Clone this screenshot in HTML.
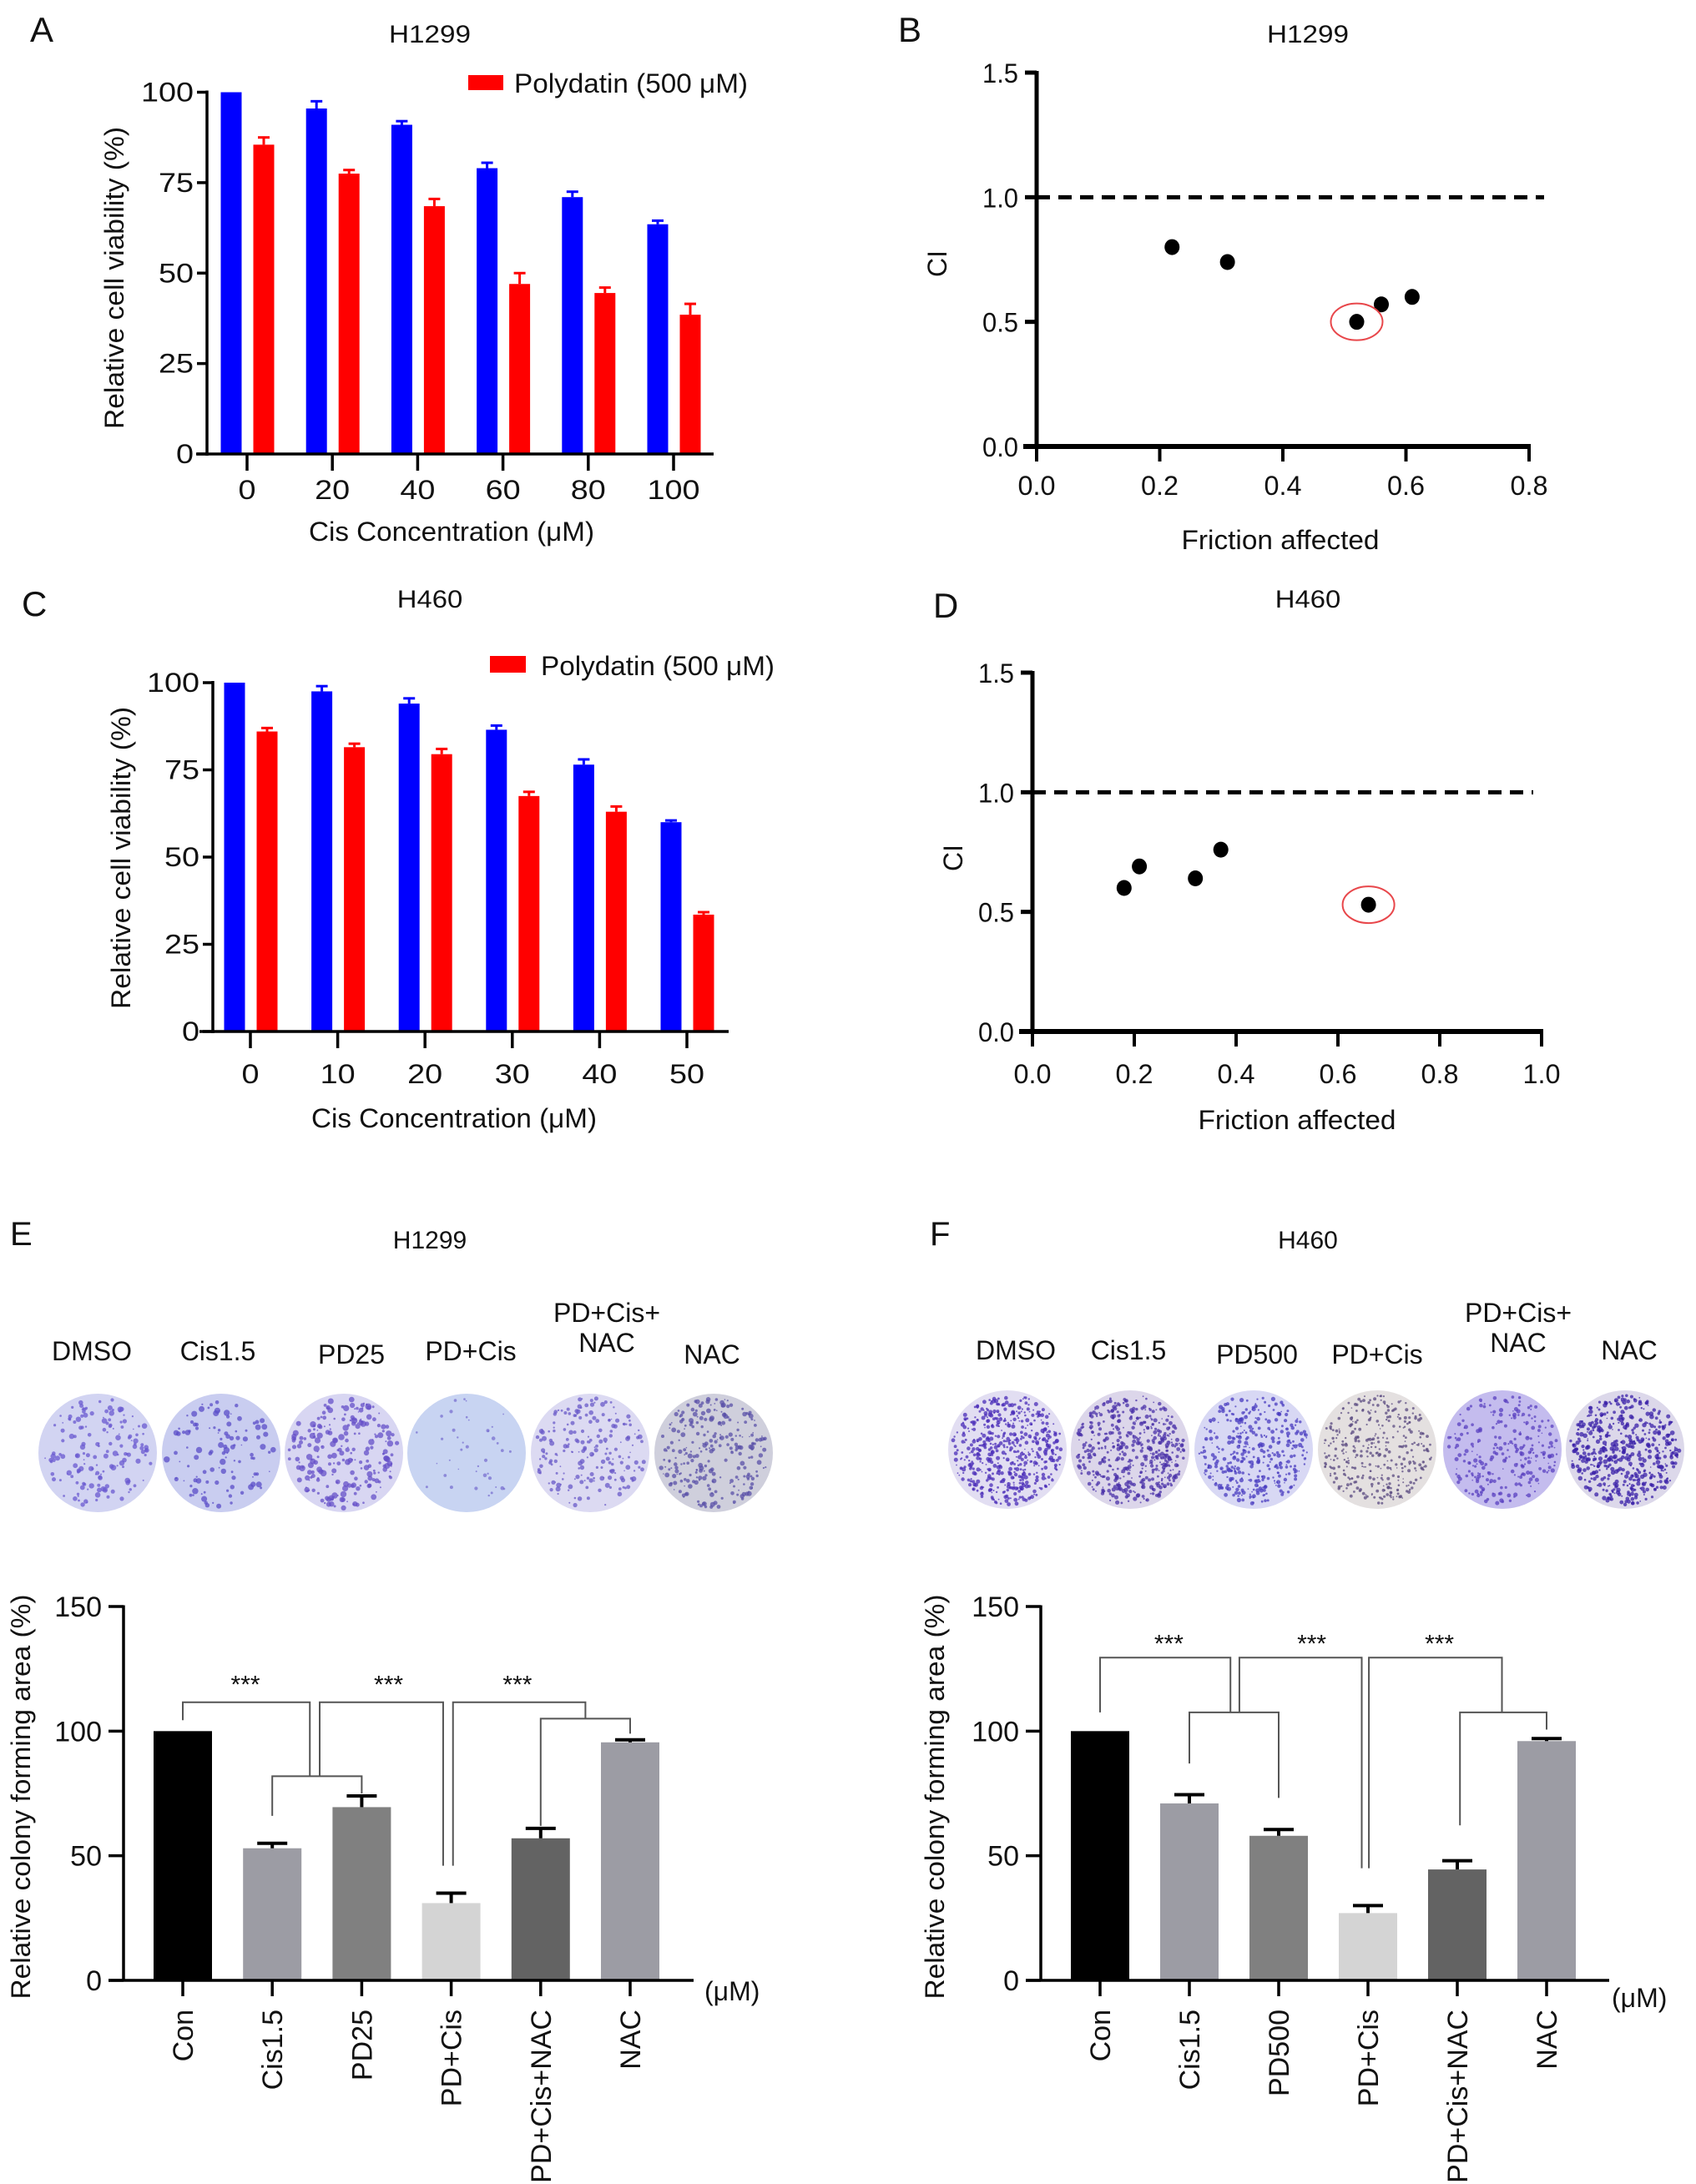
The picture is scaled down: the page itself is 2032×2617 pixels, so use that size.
<!DOCTYPE html>
<html><head><meta charset="utf-8">
<style>
html,body{margin:0;padding:0;background:#fff;}
svg{display:block;font-family:"Liberation Sans",Arial,sans-serif;}
</style></head>
<body>
<svg id="fig" width="2032" height="2617" viewBox="0 0 2032 2617" xmlns="http://www.w3.org/2000/svg">
<rect width="2032" height="2617" fill="#fff"/>
</svg>
<script>
// ---------- Panel A data ----------
const aCats = ["0","20","40","60","80","100"];
const aBlue = [100, 95.5, 91, 79, 71, 63.5];
const aBlueErr = [0, 2, 1, 1.5, 1.5, 1];
const aRed = [85.5, 77.5, 68.5, 47, 44.5, 38.5];
const aRedErr = [2, 1, 2, 3, 1.5, 3];
const aYTicks = [0, 25, 50, 75, 100];
// ---------- Panel C data ----------
const cCats = ["0","10","20","30","40","50"];
const cBlue = [100, 97.5, 94, 86.5, 76.5, 60];
const cBlueErr = [0, 1.5, 1.5, 1.2, 1.5, 0.5];
const cRed = [86, 81.5, 79.5, 67.5, 63, 33.5];
const cRedErr = [1, 1, 1.5, 1.2, 1.5, 0.7];
const cYTicks = [0, 25, 50, 75, 100];
// ---------- Panel B data ----------
const bX = [0.22, 0.31, 0.52, 0.56, 0.61];
const bY = [0.80, 0.74, 0.50, 0.57, 0.60];
const bCircled = [2];
const bXTicks = [0.0, 0.2, 0.4, 0.6, 0.8];
const bYTicks = [0.0, 0.5, 1.0, 1.5];
// ---------- Panel D data ----------
const dX = [0.18, 0.21, 0.32, 0.37, 0.66];
const dY = [0.60, 0.69, 0.64, 0.76, 0.53];
const dCircled = [4];
const dXTicks = [0.0, 0.2, 0.4, 0.6, 0.8, 1.0];
const dYTicks = [0.0, 0.5, 1.0, 1.5];
// ---------- Panel E data ----------
const eCats = ["Con","Cis1.5","PD25","PD+Cis","PD+Cis+NAC","NAC"];
const eVals = [100, 53, 69.5, 31, 57, 95.5];
const eErr = [0, 2, 4.5, 4, 4, 1];
const eDishLabels = ["DMSO","Cis1.5","PD25","PD+Cis","PD+Cis+|NAC","NAC"];
// ---------- Panel F data ----------
const fCats = ["Con","Cis1.5","PD500","PD+Cis","PD+Cis+NAC","NAC"];
const fVals = [100, 71, 58, 27, 44.5, 96];
const fErr = [0, 3.5, 2.5, 3, 3.5, 1];
const fDishLabels = ["DMSO","Cis1.5","PD500","PD+Cis","PD+Cis+|NAC","NAC"];
const colonyYTicks = [0, 50, 100, 150];
const barGreys = ["#000000","#9c9ca4","#808080","#d4d4d4","#636363","#9c9ca4"];
// brackets: [xStart(cat), dropStart(value), xEnd(cat), dropEnd(value), level(value)]
const eBrackets = [[1,66,2,75,81.9],[0,104.4,1.42,81.9,111.6],[1.53,81.9,2.91,46,111.6],[3.02,46,4.5,105,111.6],[4,62,5,99,105]];
const eStars = [[0.7,120],[2.3,120],[3.74,120]];
const fBrackets = [[1,87,2,73.2,107.5],[0,107.5,1.46,107.5,129.5],[1.56,107.5,2.93,45,129.5],[3.01,45,4.5,107.5,129.5],[4.03,62.2,5,100.6,107.5]];
const fStars = [[0.77,136.4],[2.37,136.4],[3.8,136.4]];

const NS = "http://www.w3.org/2000/svg";
const svg = document.getElementById('fig');
function el(tag, attrs, parent){
  const e = document.createElementNS(NS, tag);
  for (const k in attrs) e.setAttribute(k, attrs[k]);
  (parent||svg).appendChild(e);
  return e;
}
function group(name){
  const g = el('g', {});
  
  
  return g;
}
function txt(p, x, y, s, size, anchor, name, opts){
  opts = opts||{};
  const a = {x:x, y:y, 'font-size':size, 'text-anchor':anchor||'middle', fill:'#111'};
  if (opts.len) { a.textLength = opts.len; a.lengthAdjust = 'spacingAndGlyphs'; }
  if (opts.rot) a.transform = 'rotate(' + opts.rot + ' ' + x + ' ' + y + ')';
  const t = el('text', a, p);
  t.textContent = s;
  
  
  return t;
}
function line(p, x1, y1, x2, y2, w, name, extra){
  const a = {x1:x1,y1:y1,x2:x2,y2:y2,stroke:'#000','stroke-width':w};
  if (extra) for (const k in extra) a[k]=extra[k];
  const l = el('line', a, p);
  
  
  return l;
}

// ---------- Grouped bar chart (A, C) ----------
function groupedBars(cfg){
  const g = group(cfg.name);
  const y = v => cfg.y0 - v*(cfg.y0-cfg.y100)/100;
  const x = i => cfg.x0 + i*cfg.step;
  txt(g, cfg.letterX, cfg.letterY, cfg.letter, 42, 'start', 'panel-letter');
  txt(g, 515, cfg.titleY, cfg.title, 30, 'middle', 'chart-title', {len: cfg.title.length*19.6});
  cfg.blue.forEach((v,i)=>{
    const cx = x(i)-19;
    const r = el('rect', {x:cx-12.5, y:y(v), width:25, height:y(0)-y(v), fill:'#0000ff'}, g);
    
    
    if (cfg.blueErr[i]>0){
      line(g, cx, y(v), cx, y(v+cfg.blueErr[i]), 3, 'error-bar', {stroke:'#0000ff'});
      line(g, cx-7, y(v+cfg.blueErr[i]), cx+7, y(v+cfg.blueErr[i]), 3, 'error-cap', {stroke:'#0000ff'});
    }
  });
  cfg.red.forEach((v,i)=>{
    const cx = x(i)+20;
    const r = el('rect', {x:cx-12.5, y:y(v), width:25, height:y(0)-y(v), fill:'#ff0000'}, g);
    
    
    line(g, cx, y(v), cx, y(v+cfg.redErr[i]), 3, 'error-bar', {stroke:'#ff0000'});
    line(g, cx-7, y(v+cfg.redErr[i]), cx+7, y(v+cfg.redErr[i]), 3, 'error-cap', {stroke:'#ff0000'});
  });
  line(g, cfg.axisX, y(0)+2, cfg.axisX, y(100)-2, 3.5, 'y-axis');
  line(g, cfg.xStart, y(0), cfg.xEnd, y(0), 3.5, 'x-axis');
  cfg.yTicks.forEach(t=>{
    line(g, cfg.axisX-12, y(t), cfg.axisX, y(t), 3.5, 'y-tick');
    txt(g, cfg.axisX-16, y(t)+11, String(t), 32, 'end', 'y-tick-label', {len: String(t).length*21});
  });
  cfg.cats.forEach((c,i)=>{
    line(g, x(i), y(0), x(i), y(0)+20, 3.5, 'x-tick');
    txt(g, x(i), cfg.tickLabelY, c, 32, 'middle', 'x-tick-label', {len: c.length*21});
  });
  txt(g, cfg.xTitleX, cfg.xTitleY, 'Cis Concentration (\u03bcM)', 32, 'middle', 'x-axis-title', {len:342});
  txt(g, cfg.yTitleX, cfg.yTitleY, 'Relative cell viability (%)', 32, 'middle', 'y-axis-title', {len:362, rot:-90});
  const lr = el('rect', {x:cfg.legX, y:cfg.legY, width:cfg.legW, height:cfg.legH, fill:'#ff0000'}, g);
  
  
  txt(g, cfg.legTextX, cfg.legTextY, 'Polydatin (500 \u03bcM)', 32, 'start', 'legend-entry', {len:280});
}
groupedBars({name:'panel-a-chart', letter:'A', letterX:36, letterY:50, title:'H1299', titleY:51,
  cats:aCats, blue:aBlue, blueErr:aBlueErr, red:aRed, redErr:aRedErr, yTicks:aYTicks,
  y0:544, y100:110.5, x0:296, step:102.2, axisX:248, xStart:235, xEnd:855, tickLabelY:598,
  xTitleX:541, xTitleY:648, yTitleX:148, yTitleY:333,
  legX:561, legY:90, legW:42, legH:18, legTextX:616, legTextY:111});
groupedBars({name:'panel-c-chart', letter:'C', letterX:26, letterY:738, title:'H460', titleY:728,
  cats:cCats, blue:cBlue, blueErr:cBlueErr, red:cRed, redErr:cRedErr, yTicks:cYTicks,
  y0:1236, y100:818, x0:300, step:104.6, axisX:255, xStart:239, xEnd:873, tickLabelY:1298,
  xTitleX:544, xTitleY:1351, yTitleX:156, yTitleY:1028,
  legX:587, legY:786, legW:43, legH:20, legTextX:648, legTextY:809});

// ---------- CI scatter (B, D) ----------
function ciScatter(cfg){
  const g = group(cfg.name);
  const xMax = cfg.xTicks[cfg.xTicks.length-1];
  const x = v => cfg.axisX + v*(cfg.xEndV-cfg.axisX)/xMax;
  const y = v => cfg.y0 - v*(cfg.y0-cfg.y15)/1.5;
  txt(g, cfg.letterX, cfg.letterY, cfg.letter, 42, 'start', 'panel-letter');
  txt(g, 1567, cfg.titleY, cfg.title, 30, 'middle', 'chart-title', {len: cfg.title.length*19.6});
  line(g, cfg.axisX, y(1), cfg.dashEnd, y(1), 5, 'reference-line-ci-1', {'stroke-dasharray':'16 10'});
  line(g, cfg.axisX, y(0), cfg.axisX, y(1.5)-2, 5, 'y-axis');
  line(g, cfg.axisX-16, y(0), x(xMax)+2, y(0), 6, 'x-axis');
  cfg.yTicks.forEach(t=>{
    line(g, cfg.axisX-14, y(t), cfg.axisX, y(t), 5, 'y-tick');
    txt(g, cfg.axisX-22, y(t)+12, t.toFixed(1), 32, 'end', 'y-tick-label', {len:43});
  });
  cfg.xTicks.forEach(t=>{
    line(g, x(t), y(0), x(t), y(0)+18, 4, 'x-tick');
    txt(g, x(t), cfg.tickLabelY, t.toFixed(1), 32, 'middle', 'x-tick-label', {len:45});
  });
  cfg.xs.forEach((v,i)=>{
    const c = el('ellipse', {cx:x(v), cy:y(cfg.ys[i]), rx:9, ry:9.5, fill:'#000'}, g);
    
    
  });
  cfg.circled.forEach(i=>{
    const c = el('ellipse', {cx:x(cfg.xs[i]), cy:y(cfg.ys[i]), rx:31, ry:22, fill:'none', stroke:'#e8474b', 'stroke-width':2}, g);
    
    
  });
  txt(g, cfg.xTitleX, cfg.xTitleY, 'Friction affected', 32, 'middle', 'x-axis-title', {len:237});
  txt(g, cfg.ciX, cfg.ciY, 'CI', 32, 'middle', 'y-axis-title', {rot:-90});
}
ciScatter({name:'panel-b-chart', letter:'B', letterX:1076, letterY:50, title:'H1299', titleY:51,
  xs:bX, ys:bY, circled:bCircled, xTicks:bXTicks, yTicks:bYTicks,
  axisX:1242, xEndV:1832, y0:535, y15:87, dashEnd:1850, tickLabelY:593,
  xTitleX:1534, xTitleY:658, ciX:1134, ciY:316});
ciScatter({name:'panel-d-chart', letter:'D', letterX:1118, letterY:740, title:'H460', titleY:728,
  xs:dX, ys:dY, circled:dCircled, xTicks:dXTicks, yTicks:dYTicks,
  axisX:1237, xEndV:1847, y0:1236, y15:806, dashEnd:1837, tickLabelY:1298,
  xTitleX:1554, xTitleY:1353, ciX:1153, ciY:1028});

// ---------- Colony panels (E, F) ----------
let seed = 12345;
function rnd(){ seed = (seed*1103515245 + 12345) % 2147483648; return seed/2147483648; }
function dish(p, cx, cy, bg, dot, n, maxR, name){
  const g = el('g', {}, p);
  
  
  el('circle', {cx:cx, cy:cy, r:71, fill:bg}, g);
  for (let k=0;k<n;k++){
    const a = rnd()*Math.PI*2, rr = Math.sqrt(rnd())*66;
    el('circle', {cx:(cx+Math.cos(a)*rr).toFixed(1), cy:(cy+Math.sin(a)*rr).toFixed(1), r:(0.8+rnd()*maxR).toFixed(1), fill:dot, opacity:0.75}, g);
  }
}
function colonyPanel(cfg){
  const g = group(cfg.name);
  const x = i => cfg.x0 + i*cfg.step;
  const y = v => 2373 - v*(2373-1925)/150;
  txt(g, cfg.letterX, 1492, cfg.letter, 40, 'start', 'panel-letter');
  txt(g, 1567 - (cfg.letter==='E'?1052:0), 1496, cfg.title, 30, 'middle', 'chart-title');
  cfg.dishLabels.forEach((s,i)=>{
    const parts = s.split('|');
    if (parts.length===2){
      txt(g, cfg.labX[i], 1584, parts[0], 32, 'middle', 'dish-label');
      txt(g, cfg.labX[i], 1620, parts[1], 32, 'middle', 'dish-label');
    } else {
      txt(g, cfg.labX[i], cfg.labY[i], s, 32, 'middle', 'dish-label');
    }
    dish(g, cfg.dishX[i], cfg.dishY, cfg.dishBg[i], cfg.dishDot[i], cfg.dishN[i], cfg.dishR[i], 'colony-dish-' + i);
  });
  cfg.vals.forEach((v,i)=>{
    const r = el('rect', {x:x(i)-35, y:y(v), width:70, height:y(0)-y(v), fill:barGreys[i]}, g);
    
    
    if (cfg.err[i]>0){
      line(g, x(i), y(v), x(i), y(v+cfg.err[i]), 4, 'error-bar');
      line(g, x(i)-18, y(v+cfg.err[i]), x(i)+18, y(v+cfg.err[i]), 4, 'error-cap');
    }
  });
  line(g, cfg.axisX, y(0), cfg.axisX, y(150)-1.5, 3.5, 'y-axis');
  line(g, cfg.axisX-18, y(0), cfg.xEnd, y(0), 3.5, 'x-axis');
  colonyYTicks.forEach(t=>{
    line(g, cfg.axisX-18, y(t), cfg.axisX, y(t), 3.5, 'y-tick');
    txt(g, cfg.axisX-26, y(t)+12, String(t), 34, 'end', 'y-tick-label');
  });
  cfg.cats.forEach((c,i)=>{
    line(g, x(i), y(0), x(i), y(0)+19, 3.5, 'x-tick');
    txt(g, x(i)+12, 2408, c, 34, 'end', 'x-tick-label', {rot:-90});
  });
  txt(g, cfg.umX, cfg.umY, '(\u03bcM)', 32, 'start', 'unit-label');
  txt(g, cfg.yTitleX, cfg.yTitleY, 'Relative colony forming area (%)', 32, 'middle', 'y-axis-title', {rot:-90, len:485});
  cfg.brackets.forEach(b=>{
    const bg = el('polyline', {points:[x(b[0]),y(b[1]),x(b[0]),y(b[4]),x(b[2]),y(b[4]),x(b[2]),y(b[3])].join(' '), fill:'none', stroke:'#555', 'stroke-width':2}, g);
    
    
  });
  cfg.stars.forEach(s=>{
    txt(g, x(s[0]), y(s[1])+14, '***', 30, 'middle', 'significance-stars');
  });
}
colonyPanel({name:'panel-e-chart', letter:'E', letterX:12, title:'H1299',
  cats:eCats, vals:eVals, err:eErr, dishLabels:eDishLabels,
  labX:[110,261,421,564,727,853], labY:[1630,1630,1634,1630,1630,1634],
  dishX:[117,265,412,559,707,855], dishY:1741,
  dishBg:['#d2d4f2','#c9cdf0','#d8d6f2','#c8d4f2','#dcdaf2','#cfcfdc'],
  dishDot:['#6a5ad0','#5a4cc8','#6650c8','#7a70d0','#6a5ac8','#5a50a8'],
  dishN:[160,110,230,40,200,260], dishR:[2.6,3,3,1.5,2.2,2.2],
  x0:219, step:107.2, axisX:148, xEnd:831, umX:844, umY:2397, yTitleX:36, yTitleY:2153,
  brackets:eBrackets, stars:eStars});
colonyPanel({name:'panel-f-chart', letter:'F', letterX:1114, title:'H460',
  cats:fCats, vals:fVals, err:fErr, dishLabels:fDishLabels,
  labX:[1217,1352,1506,1650,1819,1952], labY:[1629,1629,1634,1634,1630,1629],
  dishX:[1207,1354,1502,1650,1800,1947], dishY:1737,
  dishBg:['#e2def2','#dcd6ea','#d8d8f4','#e4e0e0','#c4bcee','#dcd8ea'],
  dishDot:['#4a2cb8','#4a30a8','#4a3cc0','#5a4a80','#5a40c0','#3a20a8'],
  dishN:[520,480,380,360,260,520], dishR:[1.8,1.8,1.8,1.2,1.8,2],
  x0:1318, step:107, axisX:1247, xEnd:1928, umX:1931, umY:2405, yTitleX:1131, yTitleY:2153,
  brackets:fBrackets, stars:fStars});
</script>
</body></html>
